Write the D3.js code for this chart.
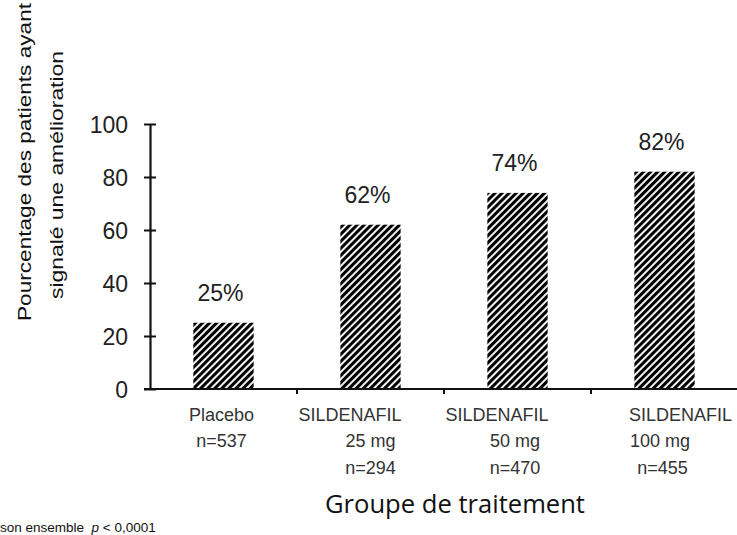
<!DOCTYPE html>
<html>
<head>
<meta charset="utf-8">
<script src="https://cdn.jsdelivr.net/npm/d3@7"></script>
<style>
  html, body { margin: 0; padding: 0; background: #fff; }
  svg { display: block; }
</style>
</head>
<body>
<script>
// ---- data ----
const categories = ["Placebo", "SILDENAFIL 25 mg", "SILDENAFIL 50 mg", "SILDENAFIL 100 mg"];
const values = [25, 62, 74, 82];
const valueLabels = ["25%", "62%", "74%", "82%"];
const categoryLabelLines = [
  ["Placebo", "n=537"],
  ["SILDENAFIL", "25 mg", "n=294"],
  ["SILDENAFIL", "50 mg", "n=470"],
  ["SILDENAFIL", "100 mg", "n=455"]
];
const yTicks = [0, 20, 40, 60, 80, 100];
const yTitleLines = ["Pourcentage des patients ayant", "signalé une amélioration"];
const xTitle = "Groupe de traitement";

// ---- layout (not data) ----
const W = 737, H = 535;
const labelDx = [[-2, -2], [-20.5, 0, 0], [-20.5, -2.5, -2.5], [16, -4.5, -2]];
const labelBaselines = [421, 447, 474];

const svg = d3.select("body").append("svg").attr("width", W).attr("height", H);

const defs = svg.append("defs");
const pat = defs.append("pattern")
  .attr("id", "hatch").attr("patternUnits", "userSpaceOnUse")
  .attr("width", 5).attr("height", 5)
  .attr("patternTransform", "rotate(45)");
pat.append("rect").attr("width", 5).attr("height", 5).attr("fill", "#fff");
pat.append("rect").attr("width", 3.1).attr("height", 5).attr("fill", "#000");

const x = d3.scaleBand().domain(categories).range([150, 738]).paddingInner(0.59).paddingOuter(0.295);
const y = d3.scaleLinear().domain([0, 100]).range([389, 124]);

// bars
svg.append("g").selectAll("rect").data(values).join("rect")
  .attr("x", (d, i) => x(categories[i]))
  .attr("y", d => y(d))
  .attr("width", x.bandwidth())
  .attr("height", d => y(0) - y(d))
  .attr("fill", "url(#hatch)");

// value labels
svg.append("g").selectAll("text").data(values).join("text")
  .attr("x", (d, i) => x(categories[i]) + x.bandwidth() / 2 - 3)
  .attr("y", d => y(d) - 22)
  .attr("text-anchor", "middle")
  .attr("font-family", "Liberation Sans, Arial, sans-serif")
  .attr("font-size", 23)
  .attr("fill", "#222")
  .text((d, i) => valueLabels[i]);

// y axis
const yAxis = svg.append("g").attr("transform", "translate(150,0)")
  .call(d3.axisLeft(y).tickValues(yTicks).tickSizeInner(6).tickSizeOuter(0).tickPadding(16));
yAxis.select(".domain").attr("stroke", "#111").attr("stroke-width", 2.2);
yAxis.selectAll(".tick line").attr("x1", -6).attr("x2", 6).attr("stroke", "#111").attr("stroke-width", 2);
yAxis.selectAll(".tick text")
  .attr("font-family", "Liberation Sans, Arial, sans-serif")
  .attr("font-size", 23).attr("fill", "#222").attr("dy", "0.36em");

// x axis
const xAxisG = svg.append("g");
xAxisG.append("line")
  .attr("x1", 144).attr("x2", W).attr("y1", y(0)).attr("y2", y(0))
  .attr("stroke", "#111").attr("stroke-width", 2.2);
const boundaries = categories.slice(0, -1).map(c => x(c) + x.bandwidth() + (x.step() - x.bandwidth()) / 2);
xAxisG.selectAll("line.tk").data(boundaries).join("line").attr("class", "tk")
  .attr("x1", d => d).attr("x2", d => d)
  .attr("y1", y(0)).attr("y2", y(0) + 5)
  .attr("stroke", "#111").attr("stroke-width", 2);

// category labels
const catG = svg.append("g")
  .attr("font-family", "Liberation Sans, Arial, sans-serif")
  .attr("font-size", 18).attr("fill", "#333").attr("text-anchor", "middle");
categoryLabelLines.forEach((lines, i) => {
  const cx = x(categories[i]) + x.bandwidth() / 2;
  lines.forEach((t, j) => {
    catG.append("text")
      .attr("x", cx + labelDx[i][j])
      .attr("y", labelBaselines[j])
      .text(t);
  });
});

// y title
const yLens = [318, 248];
const yBase = [[31, 321], [63, 299]];
yTitleLines.forEach((t, i) => {
  svg.append("text")
    .attr("transform", `translate(${yBase[i][0]},${yBase[i][1]}) rotate(-90)`)
    .attr("font-family", "Liberation Sans, Arial, sans-serif")
    .attr("font-size", 19).attr("fill", "#111")
    .attr("textLength", yLens[i]).attr("lengthAdjust", "spacingAndGlyphs")
    .text(t);
});

// x title
svg.append("text")
  .attr("x", 325).attr("y", 513)
  .attr("font-family", "Open Sans, sans-serif")
  .attr("font-size", 25).attr("fill", "#111")
  .attr("textLength", 260).attr("lengthAdjust", "spacingAndGlyphs")
  .text(xTitle);

// footnote
const fn = svg.append("text")
  .attr("x", 0).attr("y", 532)
  .attr("font-family", "Liberation Sans, Arial, sans-serif")
  .attr("font-size", 13.5).attr("fill", "#111");
fn.append("tspan").text("son ensemble\u00a0\u00a0");
fn.append("tspan").attr("font-style", "italic").text("p");
fn.append("tspan").text("\u00a0< 0,0001");
</script>
</body>
</html>
